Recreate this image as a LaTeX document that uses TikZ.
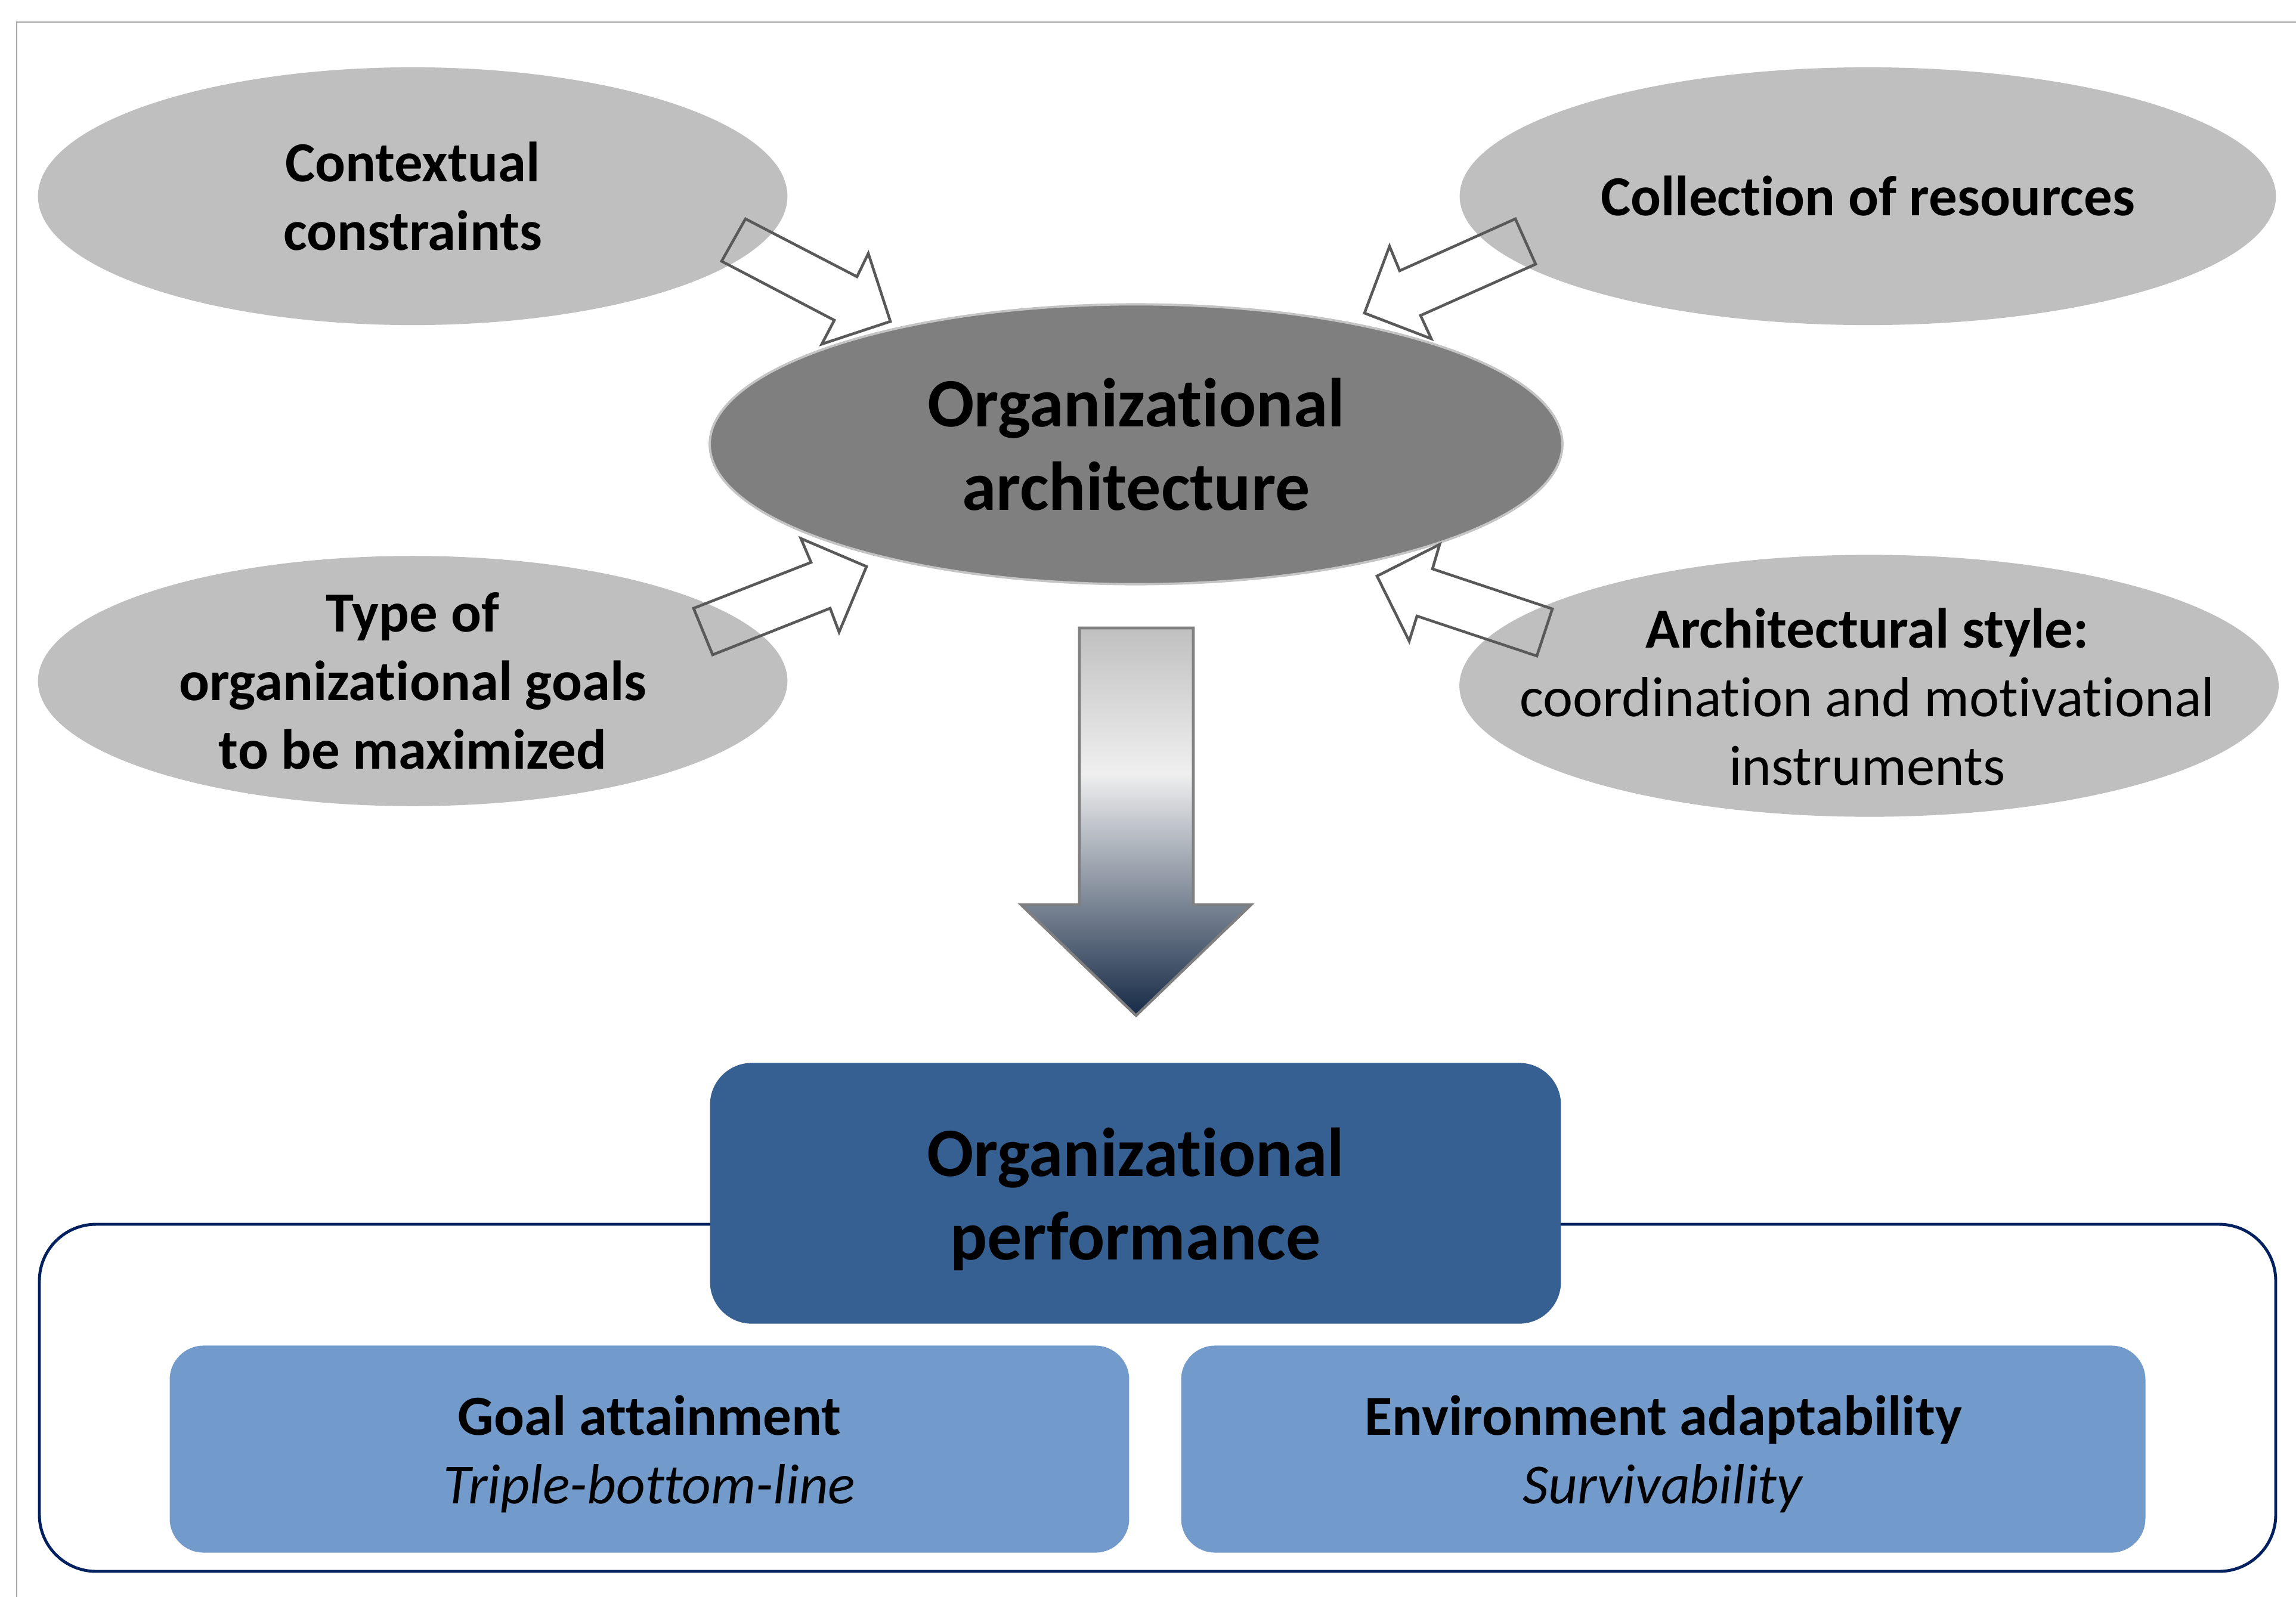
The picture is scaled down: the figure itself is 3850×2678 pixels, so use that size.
\documentclass[tikz,border=0pt]{standalone}
\usepackage{fontspec}
\setmainfont[Ligatures={NoCommon,NoContextual}]{Carlito}
\usetikzlibrary{shapes.geometric}
\definecolor{ellgray}{HTML}{BFBFBF}
\definecolor{archgray}{HTML}{7F7F7F}
\definecolor{archborder}{HTML}{C4C4C4}
\definecolor{arrline}{HTML}{595959}
\definecolor{perfblue}{HTML}{366092}
\definecolor{subblue}{HTML}{729ACA}
\definecolor{framenavy}{HTML}{002060}
\definecolor{framegray}{HTML}{A6A6A6}
\definecolor{shtop}{HTML}{C0C0C0}
\definecolor{shmid}{HTML}{EFEFEF}
\definecolor{shbot}{HTML}{172B47}
\definecolor{bigarrowline}{HTML}{7F7F7F}
\pgfdeclareverticalshading{downshade}{100bp}{color(0bp)=(shbot); color(25bp)=(shbot); color(56.25bp)=(shmid); color(75bp)=(shtop); color(100bp)=(shtop)}
\begin{document}
\begin{tikzpicture}[x=0.01cm,y=-0.01cm,
  oval/.style={ellipse, fill=ellgray, inner sep=0pt, align=center, text=black,
    font=\fontsize{27}{32.7}\selectfont\bfseries},
  bigfont/.style={font=\fontsize{33}{39.8}\selectfont\bfseries},
  txt/.style={align=center, inner sep=0pt, font=\fontsize{27}{32.7}\selectfont},
  blockarrow/.style={draw=arrline, line width=1.3pt, line join=miter},
  subbox/.style={rectangle, rounded corners=0.57cm, fill=subblue, inner sep=0pt,
    minimum height=3.47cm},
]
\useasboundingbox (0,0) rectangle (3850,2678);
\fill[white] (0,0) rectangle (3850,2678);
% page frame
\draw[framegray, line width=0.85pt] (28,2678) -- (28,37) -- (3850,37);

% ellipses
\node[oval, minimum width=12.56cm, minimum height=4.32cm] (ctx) at (692,329) {Contextual\\constraints};
\node[oval, minimum width=13.68cm, minimum height=4.32cm] (res) at (3132,329) {Collection of resources};
\node[oval, minimum width=12.56cm, minimum height=3.94cm] (goals) at (692,1142) {Type of\\organizational goals\\to be maximized};
\node[oval, minimum width=13.73cm, minimum height=4.39cm] (style) at (3134,1150) {};
\node[txt] (styletext) at (3131,1169)
  {\textbf{Architectural style:}\\coordination and motivational\\instruments};
\node[ellipse, fill=archgray, draw=archborder, line width=1.1pt, inner sep=0pt,
  minimum width=14.29cm, minimum height=4.69cm, align=center, bigfont] (arch) at (1905,745)
  {Organizational\\architecture};

% hollow block arrows
\draw[blockarrow] (1250,367) -- (1437,464) -- (1456,425) -- (1493,539) -- (1378,577) -- (1399,537) -- (1210,438) -- cycle;
\draw[blockarrow] (2541,367) -- (2347,454) -- (2330,413) -- (2288,525) -- (2400,568) -- (2382,529) -- (2575,443) -- cycle;
\draw[blockarrow] (1163,1020) -- (1360,943) -- (1343,903) -- (1453,950) -- (1407,1060) -- (1392,1020) -- (1195,1098) -- cycle;
\draw[blockarrow] (2603,1021) -- (2402,954) -- (2414,913) -- (2309,966) -- (2363,1075) -- (2376,1033) -- (2577,1100) -- cycle;

% big gradient arrow
\draw[shading=downshade, draw=bigarrowline, line width=1.3pt, line join=miter]
  (1810,1053) -- (2001,1053) -- (2001,1517) -- (2098,1517) -- (1905,1703) -- (1712,1517) -- (1810,1517) -- cycle;

% performance group
\draw[framenavy, line width=1.4pt, rounded corners=0.95cm] (66,2053) rectangle (3816,2635);
\node[rectangle, rounded corners=0.7cm, fill=perfblue, inner sep=0pt, minimum width=14.26cm,
  minimum height=4.37cm] (perf) at (1904,2001) {};
\node[align=center, inner sep=0pt, bigfont] (perftext) at (1904,2011) {Organizational\\performance};
\node[subbox, minimum width=16.08cm] (goal) at (1089,2430) {};
\node[txt] (goaltext) at (1089,2438) {\textbf{Goal attainment}\\\textit{Triple-bottom-line}};
\node[subbox, minimum width=16.16cm] (env) at (2789,2430) {};
\node[txt] (envtext) at (2789,2438) {\textbf{Environment adaptability}\\\textit{Survivability}};
\end{tikzpicture}
\end{document}
